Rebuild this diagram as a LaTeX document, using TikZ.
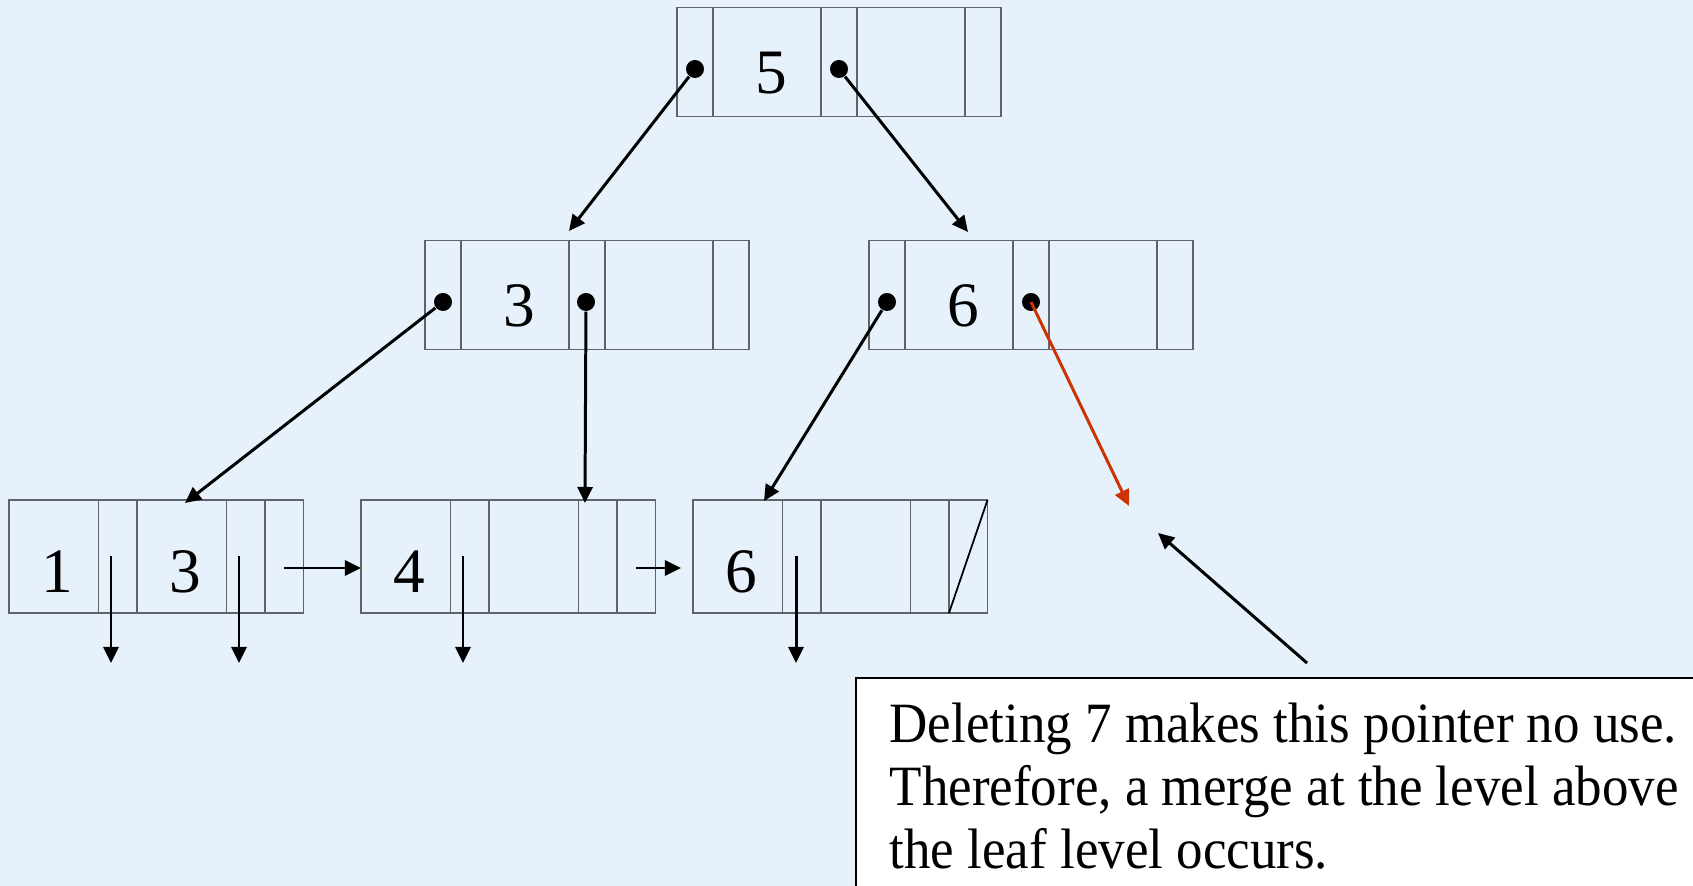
\documentclass[tikz,border=0pt]{standalone}
\usepackage{fontspec}
\setmainfont{Liberation Serif}
\newfontfamily\notefont[FakeStretch=0.93]{Liberation Serif}
\usetikzlibrary{arrows.meta, positioning}
\usepackage{xcolor}
\definecolor{bgblue}{RGB}{231,241,251}
\definecolor{boxgray}{RGB}{96,100,106}
\definecolor{delred}{RGB}{204,51,0}

\begin{document}
\begin{tikzpicture}[x=0.01cm, y=-0.01cm,
        ptrcell/.style={draw=boxgray, line width=0.4pt, inner sep=0pt, outer sep=0pt, minimum width=0.36cm, minimum height=1.09cm},
        keycell/.style={ptrcell, minimum width=1.08cm, font=\fontsize{18pt}{20pt}\selectfont, text height=0.62cm, text depth=0cm, execute at begin node=\hspace{0.08cm}},
        leafptr/.style={ptrcell, minimum width=0.385cm, minimum height=1.13cm},
        leafkey/.style={leafptr, minimum width=0.895cm, font=\fontsize{18pt}{20pt}\selectfont, text height=0.72cm, text depth=0cm, execute at begin node=\hspace{0.08cm}},
        ptrdot/.style={circle, fill=black, inner sep=0pt, minimum size=0.18cm},
        ptrline/.style={-{Triangle[length=0.16cm, width=0.15cm]}, line width=0.85pt},
        note/.style={draw=black, fill=white, line width=0.7pt, anchor=north west, minimum width=9cm, minimum height=3cm}
    ]

        \useasboundingbox (0,0) rectangle (1693,886);
        \fill[bgblue] (0,0) rectangle (1693,886);

        % Root
        \node[ptrcell] (r1) at (695,62) {};
        \node[keycell] (r2) at (767,62) {5};
        \node[ptrcell] (r3) at (839,62) {};
        \node[keycell] (r4) at (911,62) {};
        \node[ptrcell] (r5) at (983,62) {};

        % Level above the leaves
        \node[ptrcell] (a1) at (443,295) {};
        \node[keycell] (a2) at (515,295) {3};
        \node[ptrcell] (a3) at (587,295) {};
        \node[keycell] (a4) at (659,295) {};
        \node[ptrcell] (a5) at (731,295) {};

        \node[ptrcell] (b1) at (887,295) {};
        \node[keycell] (b2) at (959,295) {6};
        \node[ptrcell] (b3) at (1031,295) {};
        \node[keycell] (b4) at (1103,295) {};
        \node[ptrcell] (b5) at (1175,295) {};

        % Leaves
        \node[leafkey] (l1a) at (53.75,556.5) {1};
        \node[leafptr] (l1b) at (117.75,556.5) {};
        \node[leafkey] (l1c) at (181.75,556.5) {3};
        \node[leafptr] (l1d) at (245.75,556.5) {};
        \node[leafptr] (l1e) at (284.25,556.5) {};

        \node[leafkey] (l2a) at (405.75,556.5) {4};
        \node[leafptr] (l2b) at (469.75,556.5) {};
        \node[leafkey] (l2c) at (533.75,556.5) {};
        \node[leafptr] (l2d) at (597.75,556.5) {};
        \node[leafptr] (l2e) at (636.25,556.5) {};

        \node[leafkey] (l3a) at (737.75,556.5) {6};
        \node[leafptr] (l3b) at (801.75,556.5) {};
        \node[leafkey] (l3c) at (865.75,556.5) {};
        \node[leafptr] (l3d) at (929.75,556.5) {};
        \node[leafptr] (l3e) at (968.25,556.5) {};
        \draw[line width=0.5pt] (l3e.south west) -- (l3e.north east);

        % Pointer dots
        \node[ptrdot] (rd1) at (695,69) {};
        \node[ptrdot] (rd2) at (839,69) {};
        \node[ptrdot] (ad1) at (443,302) {};
        \node[ptrdot] (ad2) at (586,302) {};
        \node[ptrdot] (bd1) at (887,302) {};
        \node[ptrdot] (bd2) at (1031,302) {};

        % Arrow ends
        \coordinate (toa) at (569,231);
        \coordinate (tob) at (968,232);
        \coordinate (tol1) at (185,503);
        \coordinate (tol2) at (585,503);
        \coordinate (tol3) at (764,501);
        \coordinate (gone) at (1129,506);
        \coordinate (down1) at (111,663);
        \coordinate (down2) at (239,663);
        \coordinate (down3) at (463,663);
        \coordinate (down4) at (796,663);
        \coordinate (hint) at (1307,663);
        \coordinate (hinttip) at (1158,533);

        \draw[ptrline] (rd1) -- (toa);
        \draw[ptrline] (rd2) -- (tob);
        \draw[ptrline] (ad1) -- (tol1);
        \draw[ptrline] (ad2) -- (tol2);
        \draw[ptrline] (bd1) -- (tol3);
        \draw[ptrline, draw=delred, fill=delred] (bd2.center) -- (gone);

        \draw[ptrline] (l1b.center -| down1) -- (down1);
        \draw[ptrline] (l1d.center -| down2) -- (down2);
        \draw[ptrline] (l2b.center -| down3) -- (down3);
        \draw[ptrline] (l3b.center -| down4) -- (down4);

        \draw[ptrline] ([yshift=-0.115cm]l1e.center) -- ([yshift=-0.115cm]l2a.west);
        \draw[ptrline] ([yshift=-0.115cm]l2e.center) -- ([xshift=-0.12cm, yshift=-0.115cm]l3a.west);

        % Note
        \node[note] (notebox) at (855,677) {};
        \node[anchor=north west, inner sep=0pt, align=left, font=\notefont\fontsize{16.2pt}{17.9pt}\selectfont] (notetext) at (889,702) {Deleting 7 makes this pointer no use.\\Therefore, a merge at the level above\\the leaf level occurs.};
        \draw[ptrline] (hint) -- (hinttip);

    \end{tikzpicture}
\end{document}
